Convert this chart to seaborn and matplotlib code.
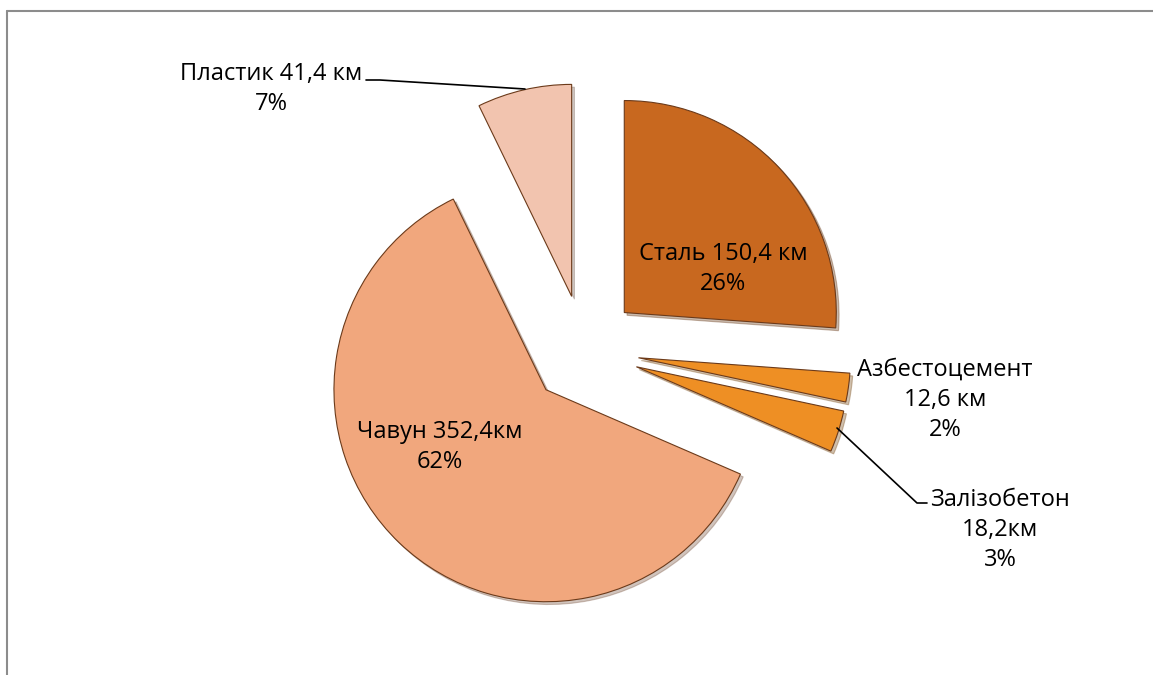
import seaborn as sns
import matplotlib.pyplot as plt
from matplotlib.lines import Line2D

# data (km of pipes by material)
materials = ["Сталь", "Азбестоцемент", "Залізобетон", "Чавун", "Пластик"]
lengths = [150.4, 12.6, 18.2, 352.4, 41.4]
labels = ["Сталь 150,4 км\n26%",
          "Азбестоцемент\n12,6 км\n2%",
          "Залізобетон\n18,2км\n3%",
          "Чавун 352,4км\n62%",
          "Пластик 41,4 км\n7%"]
colors = ["#C8681F", "#EE8F24", "#EE8F24", "#F1A77D", "#F2C4AF"]

sns.set_theme(style="white")
plt.rcParams['font.family'] = ['Open Sans', 'DejaVu Sans']

W, H = 1153, 675
fig = plt.figure(figsize=(W / 100, H / 100), dpi=100)
ax = fig.add_axes([0, 0, 1, 1])

# explode is in data units here (1 unit = 1 px)
wedges, _ = ax.pie(lengths, colors=colors, startangle=90, counterclock=False,
                   explode=[55] * len(lengths), radius=212, center=(584, H - 350),
                   wedgeprops=dict(edgecolor="#6b3a1a", linewidth=0.8),
                   shadow=dict(ox=2, oy=-2, shade=0.5, alpha=0.35))
ax.set_xlim(0, W)
ax.set_ylim(0, H)
ax.set_aspect('equal')
ax.axis('off')

# label positions (image pixels, y down)
label_pos = [(723, 269), (945, 400), (1000, 530), (440, 447), (271, 89)]
for txt, (x, y) in zip(labels, label_pos):
    ax.text(x, H - y, txt, ha='center', va='center', fontsize=17,
            linespacing=1.36, color='black')

# leader lines
ax.plot([366, 380, 525], [H - 80, H - 80, H - 89], color='black', lw=1.2)
ax.plot([837, 917, 927], [H - 428, H - 503, H - 503], color='black', lw=1.2)

# chart frame (only top and left edges are visible)
fig.add_artist(Line2D([7 / W, 7 / W], [0, 1 - 11 / H], transform=fig.transFigure,
                      color='#8c8c8c', lw=1.5))
fig.add_artist(Line2D([7 / W, 1], [1 - 11 / H, 1 - 11 / H], transform=fig.transFigure,
                      color='#8c8c8c', lw=1.5))

plt.savefig("out.png", dpi=100)
plt.close()
